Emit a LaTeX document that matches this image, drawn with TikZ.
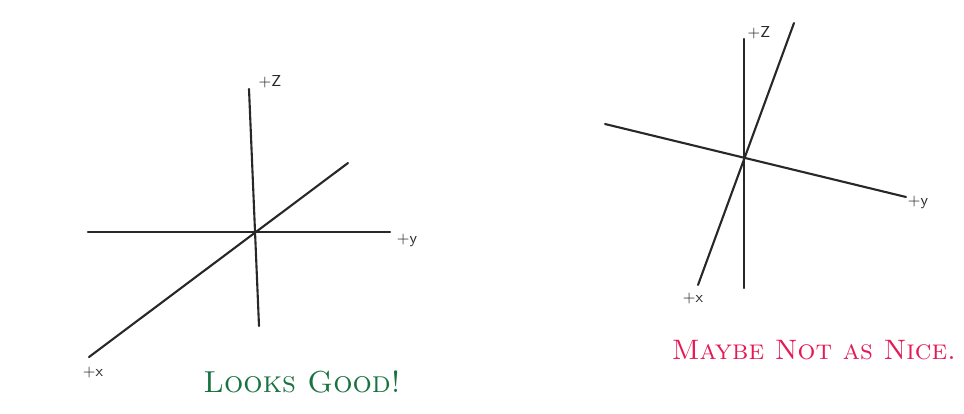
\documentclass[tikz,border=0pt]{standalone}
\usepackage{xcolor}
\usepackage{tikz}
\definecolor{inkgray}{RGB}{40,40,40}
\definecolor{goodgreen}{RGB}{25,115,65}
\definecolor{badred}{RGB}{228,25,85}

\begin{document}
\begin{tikzpicture}[
    x=0.02cm, y=-0.02cm,
    axis/.style={draw=inkgray, line width=1.2pt, line cap=round},
    lbl/.style={inner sep=0pt, text=inkgray, font=\sffamily\small},
    note/.style={inner sep=0pt, font=\fontsize{16}{18}\selectfont\scshape}
]
    \useasboundingbox (0,0) rectangle (964,413);

    % Left axes (looks good)
    \coordinate (Lz1) at (249,89);  \coordinate (Lz2) at (259,326);
    \coordinate (Ly1) at (88,232);  \coordinate (Ly2) at (390,232);
    \coordinate (Lx1) at (89,357);  \coordinate (Lx2) at (348,163);
    \draw[axis] (Lz1) -- (Lz2);
    \draw[axis] (Ly1) -- (Ly2);
    \draw[axis] (Lx1) -- (Lx2);
    \node[lbl] (LzL) at (270,82) {+Z};
    \node[lbl] (LyL) at (407,240) {+y};
    \node[lbl] (LxL) at (93,373) {+x};
    \node[note, text=goodgreen, font=\LARGE\scshape] (good) at (302,382) {Looks Good!};

    % Right axes (maybe not as nice)
    \coordinate (Rz1) at (744,39);  \coordinate (Rz2) at (744,288);
    \coordinate (Ry1) at (605,124); \coordinate (Ry2) at (906,197);
    \coordinate (Rx1) at (698,285); \coordinate (Rx2) at (794,23);
    \draw[axis] (Rz1) -- (Rz2);
    \draw[axis] (Ry1) -- (Ry2);
    \draw[axis] (Rx1) -- (Rx2);
    \node[lbl] (RzL) at (759,33) {+Z};
    \node[lbl] (RyL) at (918,202) {+y};
    \node[lbl] (RxL) at (693,299) {+x};
    \node[note, text=badred] (nice) at (814,350) {Maybe Not as Nice.};
\end{tikzpicture}
\end{document}
